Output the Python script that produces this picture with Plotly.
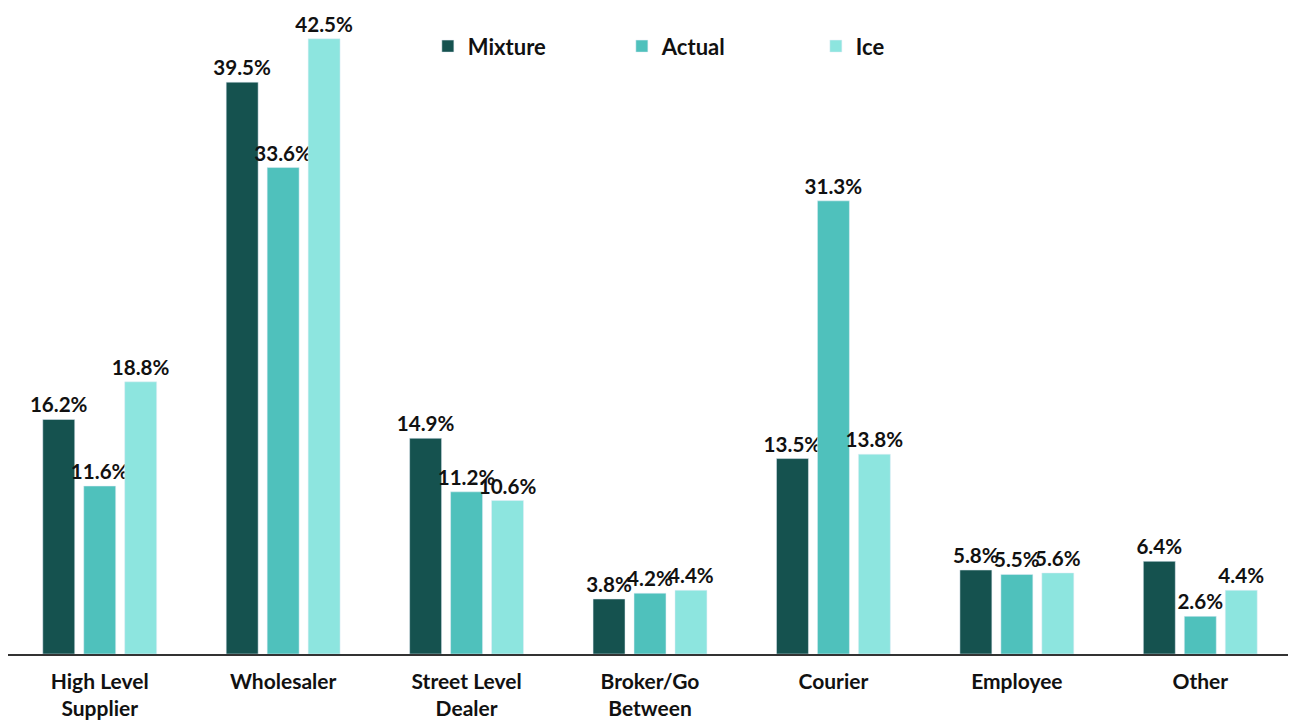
import plotly.graph_objects as go

categories = ["High Level<br>Supplier", "Wholesaler", "Street Level<br>Dealer", "Broker/Go<br>Between", "Courier", "Employee", "Other"]
mixture = [16.2, 39.5, 14.9, 3.8, 13.5, 5.8, 6.4]
actual = [11.6, 33.6, 11.2, 4.2, 31.3, 5.5, 2.6]
ice = [18.8, 42.5, 10.6, 4.4, 13.8, 5.6, 4.4]

series = [("Mixture", mixture, "#15524f"), ("Actual", actual, "#4fc1bc"), ("Ice", ice, "#8de5df")]

fig = go.Figure()
for name, vals, color in series:
    fig.add_trace(go.Bar(
        x=categories, y=vals, name=name, marker_color=color,
        text=[f"{v:.1f}%" for v in vals], textposition="outside",
        constraintext="none", cliponaxis=False,
        textfont=dict(family="Lato", size=20.6, color="#111111", weight="bold"),
    ))

fig.update_layout(
    width=1296, height=720,
    margin=dict(l=0, r=12, t=9, b=74, autoexpand=False),
    paper_bgcolor="white", plot_bgcolor="white",
    barmode="group", bargap=0.33, bargroupgap=0.22,
    font=dict(family="Lato", color="#111111"),
    legend=dict(orientation="h", x=0.327, y=0.954, xanchor="left", yanchor="middle",
                entrywidth=149, font=dict(family="Lato", size=22, weight="bold"),
                bgcolor="rgba(0,0,0,0)"),
    xaxis=dict(showline=True, linecolor="#333333", linewidth=1.5, ticks="",
               automargin=False, ticklabelstandoff=8,
               tickfont=dict(family="Lato", size=21, weight="bold"), fixedrange=True),
    yaxis=dict(range=[0, 44], visible=False, showgrid=False, fixedrange=True, automargin=False),
)

fig.write_html("out.html")
